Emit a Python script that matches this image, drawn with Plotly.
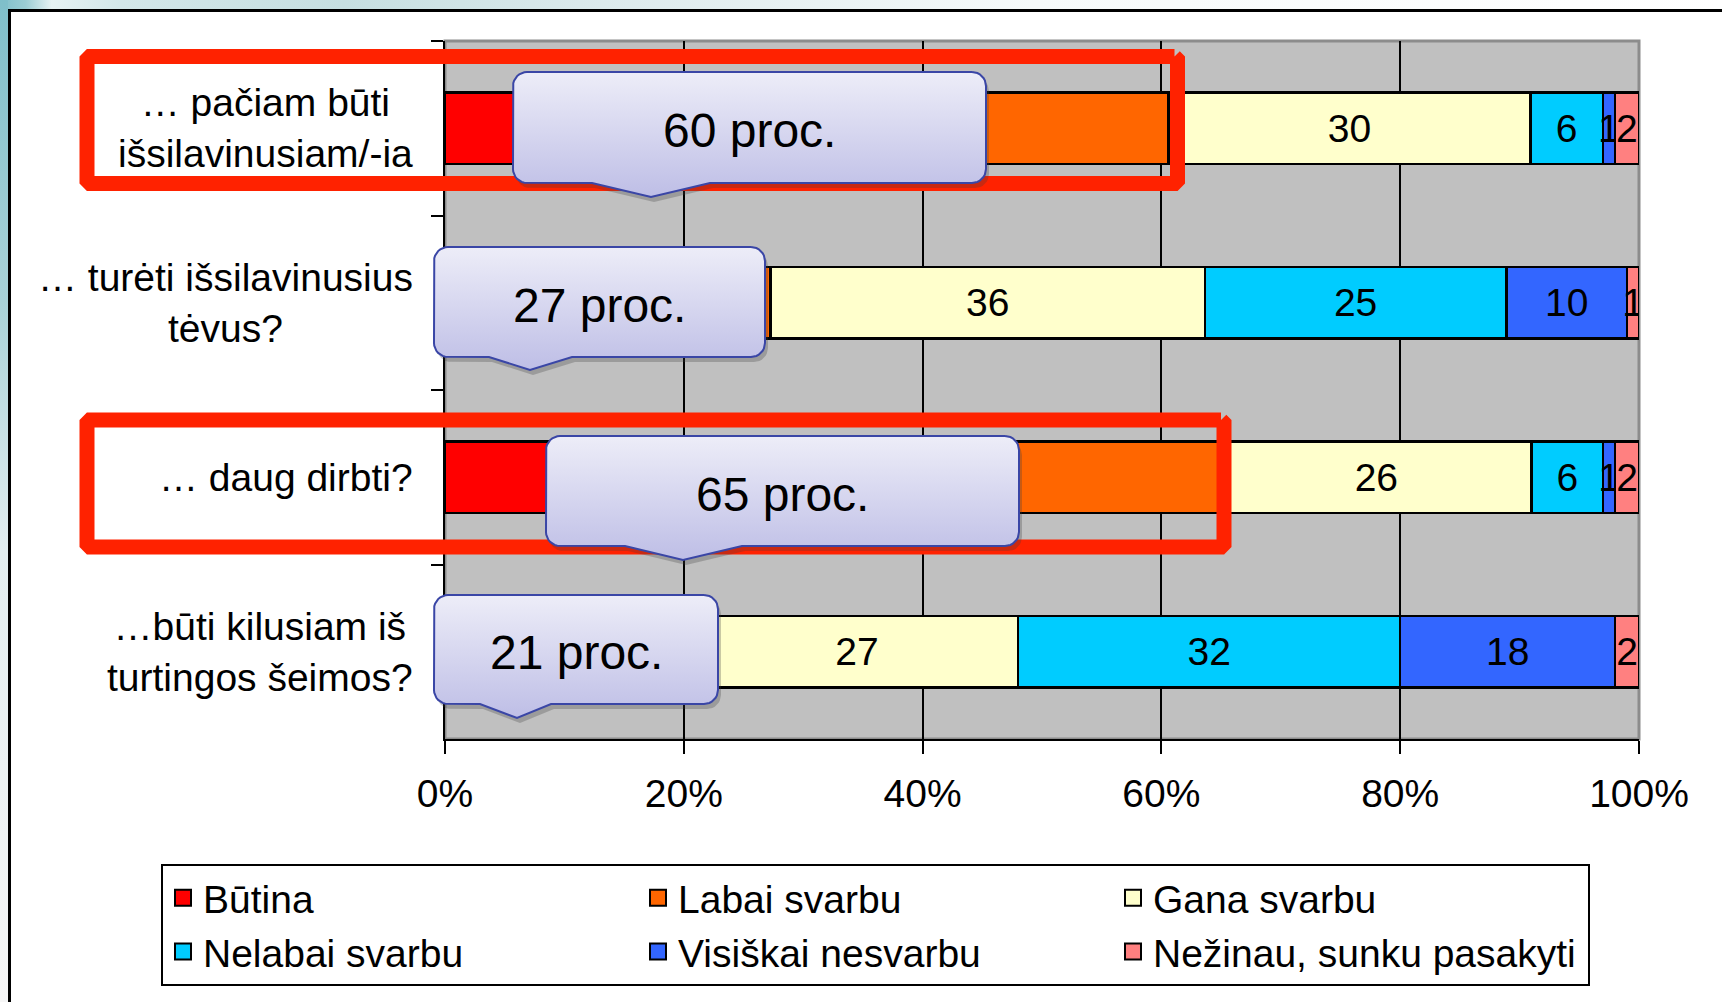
import math
import plotly.graph_objects as go

W, H = 1722, 1002
FONT = "Liberation Sans, Arial, sans-serif"
FS = 39

# ---------------- data ----------------
categories = [
    "… pačiam būti<br>išsilavinusiam/-ia",
    "… turėti išsilavinusius<br>tėvus?",
    "… daug dirbti?",
    "…būti kilusiam iš<br>turtingos šeimos?",
]
series_names = ["Būtina", "Labai svarbu", "Gana svarbu", "Nelabai svarbu",
                "Visiškai nesvarbu", "Nežinau, sunku pasakyti"]
butina = [22, 7, 27, 5]          # hidden behind callouts (estimated)
labai_svarbu = [38, 20, 38, 16]  # hidden behind callouts (estimated)
gana_svarbu = [30, 36, 26, 27]
nelabai_svarbu = [6, 25, 6, 32]
visiskai_nesvarbu = [1, 10, 1, 18]
nezinau = [2, 1, 2, 2]
series_values = [butina, labai_svarbu, gana_svarbu, nelabai_svarbu,
                 visiskai_nesvarbu, nezinau]
series_colors = ["#FF0000", "#FF6600", "#FFFFCC", "#00CCFF", "#3366FF", "#FF8080"]
show_labels = [False, False, True, True, True, True]

x_tick_vals = [0, 20, 40, 60, 80, 100]
x_tick_text = ["0%", "20%", "40%", "60%", "80%", "100%"]
x_grid_vals = [20, 40, 60, 80]

# ---------------- layout geometry (pixels) ----------------
PX_L, PX_R, PX_T, PX_B = 445, 1639, 41, 739
# callout boxes: left, top, right, bottom, pointer base left, base right, tip x, tip y
callout_geom = [
    (513, 72, 986, 183, 592, 710, 651, 197),
    (434, 247, 765, 357, 489, 572, 530, 370),
    (546, 436, 1019, 546, 625, 742, 683, 560),
    (434, 595, 718, 704, 480, 551, 517, 718),
]
highlight_geom = [
    (87, 56.5, 1177.5, 183.5),
    (87, 420, 1224, 547),
]

fig = go.Figure()

for name, vals, col, lab in zip(series_names, series_values, series_colors, show_labels):
    fig.add_trace(go.Bar(
        y=categories, x=vals, name=name, orientation="h", showlegend=False,
        marker=dict(color=col, line=dict(color="black", width=2.5)),
        text=[str(v) for v in vals] if lab else None,
        textposition="inside" if lab else "none",
        insidetextanchor="middle", textangle=0,
        textfont=dict(family=FONT, size=FS, color="black"),
        xaxis="x", yaxis="y", hoverinfo="skip",
    ))
    # legend entry with a larger square swatch
    fig.add_trace(go.Scatter(
        x=[None], y=[None], name=name, mode="markers", xaxis="x", yaxis="y",
        marker=dict(symbol="square", size=20, color=col, line=dict(color="black", width=2)),
        hoverinfo="skip",
    ))


def arc(cx, cy, r, a0, a1, n=8):
    return [(cx + r * math.cos(math.radians(a0 + (a1 - a0) * i / n)),
             cy + r * math.sin(math.radians(a0 + (a1 - a0) * i / n))) for i in range(n + 1)]


def rounded_rect(l, t, r, b, rad, pointer=None):
    pts = []
    pts += arc(r - rad, t + rad, rad, -90, 0)
    pts += arc(r - rad, b - rad, rad, 0, 90)
    if pointer:
        bl, br, tx, ty = pointer
        pts += [(br, b), (tx, ty), (bl, b)]
    pts += arc(l + rad, b - rad, rad, 90, 180)
    pts += arc(l + rad, t + rad, rad, 180, 270)
    pts.append(pts[0])
    return [p[0] for p in pts], [p[1] for p in pts]


def overlay_scatter(xs, ys, **kw):
    fig.add_trace(go.Scatter(x=xs, y=ys, xaxis="x2", yaxis="y2", showlegend=False,
                             hoverinfo="skip", **kw))

# decorative frame (teal strips + black border)
overlay_scatter([0, W, W, 0, 0], [0, 0, 9, 9, 0], mode="lines", line=dict(width=0),
                fill="toself",
                fillgradient=dict(type="horizontal", start=0, stop=W,
                                  colorscale=[[0, "#7FBFCA"], [0.015, "#9CCDD4"], [0.03, "#E6F2F3"],
                                              [0.07, "#D3E7E9"], [0.2, "#C6DFE1"], [0.35, "#DCEAEC"],
                                              [0.6, "#F6FAFA"], [1, "#FFFFFF"]]))
overlay_scatter([0, 8, 8, 0, 0], [0, 0, H, H, 0], mode="lines", line=dict(width=0),
                fill="toself",
                fillgradient=dict(type="vertical", start=0, stop=H,
                                  colorscale=[[0, "#7FBFCA"], [0.3, "#A9D2D8"], [0.55, "#E3EEF0"],
                                              [1, "#F6F6F6"]]))
overlay_scatter([9.5, 9.5, W], [H, 10.5, 10.5], mode="lines", line=dict(color="black", width=3))

# red highlight frames
for (l, t, r, b) in highlight_geom:
    xs, ys = rounded_rect(l, t, r, b, 3)
    overlay_scatter(xs, ys, mode="lines", line=dict(color="#FF2200", width=15))

# callouts (shadow + gradient body)
for (l, t, r, b, bl, br, tx, ty) in callout_geom:
    xs, ys = rounded_rect(l, t, r, b, 14, (bl, br, tx, ty))
    overlay_scatter([x + 3 for x in xs], [y + 5 for y in ys], mode="lines", line=dict(width=0),
                    fill="toself", fillcolor="rgba(60,60,60,0.28)")
    overlay_scatter(xs, ys, mode="lines", line=dict(color="#3A46A6", width=2),
                    fill="toself",
                    fillgradient=dict(type="vertical", start=t, stop=ty,
                                      colorscale=[[0, "#EDEDF8"], [1, "#BEBEE6"]]))

annotations = []
for i, (l, t, r, b, bl, br, tx, ty) in enumerate(callout_geom):
    total = butina[i] + labai_svarbu[i]
    annotations.append(dict(x=(l + r) / 2, y=(t + b) / 2 + 3, xref="x2", yref="y2",
                            text=f"{total} proc.", showarrow=False,
                            font=dict(family=FONT, size=48, color="black"),
                            xanchor="center", yanchor="middle"))
for cat in categories:
    annotations.append(dict(x=415 / W, y=cat, xref="paper", yref="y", text=cat,
                            showarrow=False, align="center", xanchor="right", yanchor="middle",
                            font=dict(family=FONT, size=FS, color="black")))

shapes = [
    dict(type="rect", xref="x domain", yref="y domain", x0=0, x1=1, y0=0, y1=1,
         fillcolor="#C0C0C0", line=dict(color="#8C8C8C", width=3), layer="below"),
]

fig.update_layout(
    width=W, height=H, margin=dict(l=0, r=0, t=0, b=0),
    paper_bgcolor="white", plot_bgcolor="rgba(0,0,0,0)",
    barmode="stack", barnorm="percent", bargap=0.59,
    uniformtext=dict(minsize=FS, mode="show"),
    font=dict(family=FONT, size=FS, color="black"),
    xaxis=dict(domain=[PX_L / W, PX_R / W], range=[0, 100], tickvals=x_tick_vals,
               ticktext=x_tick_text, showgrid=False,
               minor=dict(tickvals=x_grid_vals, showgrid=True, gridcolor="black", gridwidth=2,
                          ticks=""),
               showline=True, linecolor="black", linewidth=2, ticks="outside", ticklen=13,
               tickwidth=2, tickcolor="black", zeroline=False, automargin=False,
               ticklabelstandoff=6,
               tickfont=dict(family=FONT, size=FS, color="black"), fixedrange=True),
    yaxis=dict(domain=[1 - PX_B / H, 1 - PX_T / H], type="category",
               categoryorder="array", categoryarray=categories,
               range=[len(categories) - 0.5, -0.5],
               showline=True, linecolor="black", linewidth=2, ticks="outside", ticklen=12,
               tickwidth=2, tickcolor="black", tickson="boundaries", showticklabels=False,
               showgrid=False, zeroline=False, automargin=False, fixedrange=True),
    xaxis2=dict(domain=[0, 1], range=[0, W], visible=False, anchor="y2", fixedrange=True),
    yaxis2=dict(domain=[0, 1], range=[H, 0], visible=False, anchor="x2", fixedrange=True),
    legend=dict(orientation="h", x=161 / W, y=1 - 864 / H, xanchor="left", yanchor="top",
                bgcolor="white", bordercolor="black", borderwidth=2,
                font=dict(family=FONT, size=FS, color="black"), itemsizing="trace",
                entrywidth=430, entrywidthmode="pixels", traceorder="normal"),
    shapes=shapes, annotations=annotations,
)

fig.write_html("out.html", config={"displayModeBar": False},
               post_script="document.body.style.margin='0';")
